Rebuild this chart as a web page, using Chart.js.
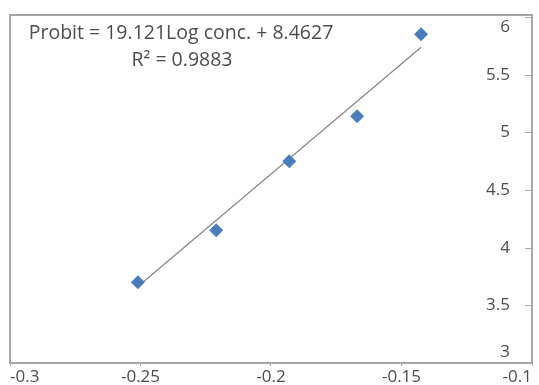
<!DOCTYPE html>
<html>
<head>
<meta charset="utf-8">
<script src="https://cdn.jsdelivr.net/npm/chart.js"></script>
<style>
  html, body { margin: 0; padding: 0; background: #fff; }
  #wrap { width: 539px; height: 385px; }
</style>
</head>
<body>
<div id="wrap"><canvas id="probitChart" width="539" height="385"></canvas></div>
<script>
// Data
const logConc = [-0.251, -0.221, -0.193, -0.167, -0.1425];
const probit = [3.70, 4.15, 4.75, 5.14, 5.85];

const xTicks = [-0.3, -0.25, -0.2, -0.15, -0.1];
const xTickLabels = ['-0.3', '-0.25', '-0.2', '-0.15', '-0.1'];
const yTicks = [3, 3.5, 4, 4.5, 5, 5.5, 6];
const yTickLabels = ['3', '3.5', '4', '4.5', '5', '5.5', '6'];

// Trendline as printed on the chart
const slope = 19.121;
const intercept = 8.4627;
const rSquared = 0.9883;
const equationLines = ['Probit = 19.121Log conc. + 8.4627', 'R\u00B2 = 0.9883'];

const FONT = '"Open Sans", Lato, sans-serif';
const TEXT_COLOR = '#4d4d4d';
const AXIS_COLOR = '#a6a6a6';

const xMin = Math.min(...logConc);
const xMax = Math.max(...logConc);
const trendData = [
    { x: xMin, y: slope * xMin + intercept },
    { x: xMax, y: slope * xMax + intercept }
];

function labelFor(values, labels) {
    return (value) => {
        const i = values.findIndex(v => Math.abs(v - value) < 1e-9);
        return i >= 0 ? labels[i] : '';
    };
}

// Border around the plot, inner tick marks and labels of the right axis
// (Excel keeps the end labels inside the plot, so they are clamped here)
const framePlugin = {
    id: 'frame',
    afterDraw(chart) {
        const { ctx, chartArea } = chart;
        const yScale = chart.scales.y;
        ctx.save();
        ctx.strokeStyle = AXIS_COLOR;
        ctx.lineWidth = 2;
        ctx.strokeRect(chartArea.left, chartArea.top - 2, chartArea.right - chartArea.left, chartArea.bottom - chartArea.top + 2);
        ctx.lineWidth = 1;
        ctx.fillStyle = TEXT_COLOR;
        ctx.font = '17px ' + FONT;
        ctx.textAlign = 'right';
        ctx.textBaseline = 'middle';
        yTicks.forEach((v, i) => {
            const py = Math.round(yScale.getPixelForValue(v)) + 0.5;
            ctx.beginPath();
            ctx.moveTo(chartArea.right - 7, py);
            ctx.lineTo(chartArea.right, py);
            ctx.stroke();
            const ly = Math.min(Math.max(py, chartArea.top + 10), chartArea.bottom - 11);
            ctx.fillText(yTickLabels[i], chartArea.right - 22, ly);
        });
        ctx.restore();
    }
};

// Trendline equation text
const equationPlugin = {
    id: 'equation',
    afterDraw(chart) {
        const { ctx } = chart;
        ctx.save();
        ctx.fillStyle = TEXT_COLOR;
        ctx.font = '19.5px ' + FONT;
        ctx.textAlign = 'center';
        ctx.textBaseline = 'middle';
        ctx.fillText(equationLines[0], 181, 33);
        ctx.fillText(equationLines[1], 182, 60);
        ctx.restore();
    }
};

const ctx = document.getElementById('probitChart').getContext('2d');
new Chart(ctx, {
    type: 'scatter',
    data: {
        datasets: [
            {
                label: 'Probit',
                data: logConc.map((x, i) => ({ x: x, y: probit[i] })),
                pointStyle: 'rectRot',
                pointRadius: 7,
                pointHoverRadius: 7,
                backgroundColor: '#4a7ebb',
                borderColor: '#4a7ebb',
                borderWidth: 0,
                order: 1
            },
            {
                label: 'Linear',
                type: 'line',
                data: trendData,
                borderColor: '#858585',
                borderWidth: 1.2,
                pointRadius: 0,
                fill: false,
                order: 2
            }
        ]
    },
    options: {
        responsive: false,
        animation: false,
        layout: { padding: { left: 10, top: 17, right: 0, bottom: 0 } },
        plugins: {
            legend: { display: false },
            tooltip: { enabled: false }
        },
        scales: {
            x: {
                type: 'linear',
                position: 'bottom',
                min: -0.3,
                max: -0.1,
                afterBuildTicks: (scale) => { scale.ticks = xTicks.map(v => ({ value: v })); },
                afterFit: (scale) => {
                    scale.height = 22;
                    scale.paddingLeft = 0;
                    scale.paddingRight = 0;
                },
                grid: { drawOnChartArea: false, drawTicks: true, tickLength: 3, color: AXIS_COLOR },
                border: { display: true, color: AXIS_COLOR, width: 2 },
                ticks: {
                    align: 'inner',
                    padding: 1,
                    maxRotation: 0,
                    autoSkip: false,
                    color: TEXT_COLOR,
                    font: { family: FONT, size: 17 },
                    callback: labelFor(xTicks, xTickLabels)
                }
            },
            y: {
                type: 'linear',
                position: 'right',
                min: 3,
                max: 6,
                afterBuildTicks: (scale) => { scale.ticks = yTicks.map(v => ({ value: v })); },
                afterFit: (scale) => {
                    scale.width = 5;
                    scale.paddingTop = 0;
                    scale.paddingBottom = 0;
                },
                grid: { display: false, drawTicks: false },
                border: { display: true, color: AXIS_COLOR, width: 2 },
                ticks: { display: false }
            }
        }
    },
    plugins: [framePlugin, equationPlugin]
});
</script>
</body>
</html>
